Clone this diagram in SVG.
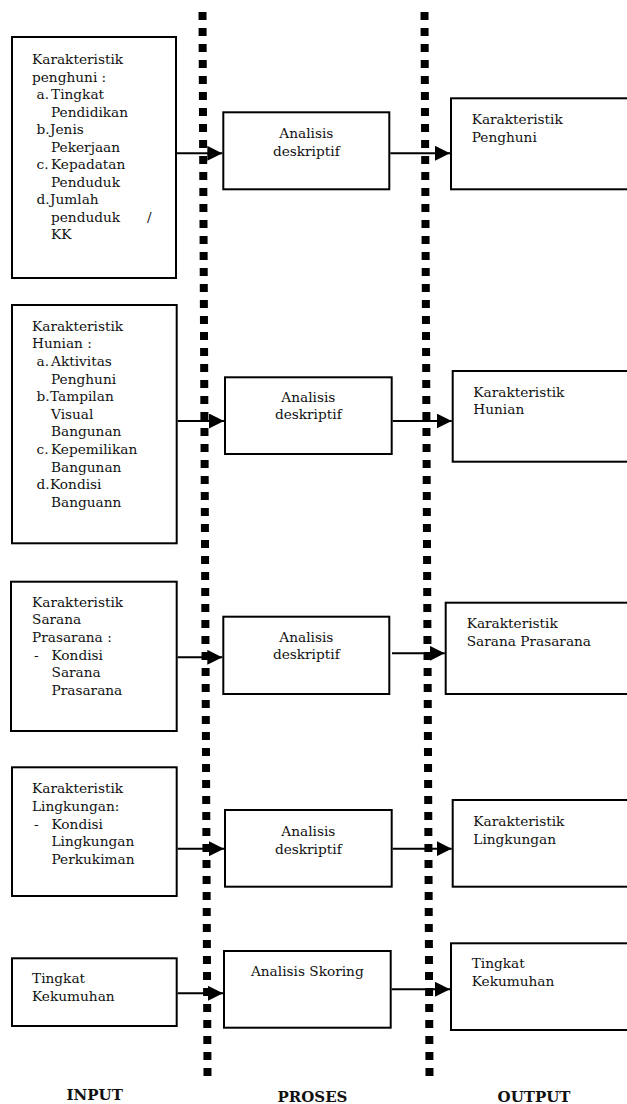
<svg xmlns="http://www.w3.org/2000/svg" width="627" height="1104" viewBox="0 0 627 1104">
<defs>
<style>
.box{fill:#fff;stroke:#000;stroke-width:2}
.t{font-family:"DejaVu Serif","Liberation Serif",serif;font-size:13.7px;fill:#111}
.c{text-anchor:middle}
.h{font-family:"DejaVu Serif","Liberation Serif",serif;font-size:15px;font-weight:bold;fill:#111;text-anchor:middle}
.dot{stroke:#000;stroke-width:8;stroke-dasharray:8 8;fill:none}
.arr{stroke:#000;stroke-width:2;fill:none;marker-end:url(#ah)}
</style>
<marker id="ah" markerUnits="userSpaceOnUse" markerWidth="15" markerHeight="15" refX="15" refY="7.5" orient="auto">
<path d="M0,0 L15,7.5 L0,15 z" fill="#000"/>
</marker>
</defs>
<rect width="627" height="1104" fill="#fff"/>
<g id="dividers">
<line class="dot" x1="202.5" y1="12" x2="207.5" y2="1076"/>
<line class="dot" x1="424.5" y1="12" x2="429.5" y2="1076"/>
</g>
<g id="in1">
<rect class="box" x="12" y="37" width="164" height="241"/>
<text class="t" x="32">
<tspan x="32" y="64">Karakteristik</tspan>
<tspan x="32" y="81.5">penghuni :</tspan>
<tspan x="36.5" y="99">a.</tspan><tspan x="51" y="99">Tingkat</tspan>
<tspan x="51" y="116.5">Pendidikan</tspan>
<tspan x="36.5" y="134">b.</tspan><tspan x="50" y="134">Jenis</tspan>
<tspan x="51" y="151.5">Pekerjaan</tspan>
<tspan x="36.5" y="169">c.</tspan><tspan x="51" y="169">Kepadatan</tspan>
<tspan x="51" y="186.5">Penduduk</tspan>
<tspan x="36.5" y="204">d.</tspan><tspan x="50" y="204">Jumlah</tspan>
<tspan x="51" y="221.5">penduduk</tspan><tspan x="147" y="221.5">/</tspan>
<tspan x="51" y="239">KK</tspan>
</text>
</g>
<g id="in2">
<rect class="box" x="12" y="305" width="164.7" height="238.3"/>
<text class="t">
<tspan x="32" y="330.7">Karakteristik</tspan>
<tspan x="32" y="348.3">Hunian :</tspan>
<tspan x="36.5" y="365.9">a.</tspan><tspan x="51" y="365.9">Aktivitas</tspan>
<tspan x="51" y="383.5">Penghuni</tspan>
<tspan x="36.5" y="401.1">b.</tspan><tspan x="50" y="401.1">Tampilan</tspan>
<tspan x="51" y="418.7">Visual</tspan>
<tspan x="51" y="436.3">Bangunan</tspan>
<tspan x="36.5" y="453.9">c.</tspan><tspan x="51" y="453.9">Kepemilikan</tspan>
<tspan x="51" y="471.5">Bangunan</tspan>
<tspan x="36.5" y="489.1">d.</tspan><tspan x="50" y="489.1">Kondisi</tspan>
<tspan x="51" y="506.7">Banguann</tspan>
</text>
</g>
<g id="in3">
<rect class="box" x="11" y="581.7" width="165.7" height="149.3"/>
<text class="t">
<tspan x="32" y="606.7">Karakteristik</tspan>
<tspan x="32" y="624.3">Sarana</tspan>
<tspan x="32" y="641.9">Prasarana :</tspan>
<tspan x="34" y="659.5">-</tspan><tspan x="51.5" y="659.5">Kondisi</tspan>
<tspan x="51.5" y="677.1">Sarana</tspan>
<tspan x="51.5" y="694.7">Prasarana</tspan>
</text>
</g>
<g id="in4">
<rect class="box" x="12" y="767.3" width="164.7" height="128.7"/>
<text class="t">
<tspan x="32" y="793.3">Karakteristik</tspan>
<tspan x="32" y="810.9">Lingkungan:</tspan>
<tspan x="34" y="828.5">-</tspan><tspan x="51.5" y="828.5">Kondisi</tspan>
<tspan x="51.5" y="846.1">Lingkungan</tspan>
<tspan x="51.5" y="863.7">Perkukiman</tspan>
</text>
</g>
<g id="in5">
<rect class="box" x="12" y="958.3" width="164.7" height="67.7"/>
<text class="t">
<tspan x="32" y="983.3">Tingkat</tspan>
<tspan x="32" y="1000.9">Kekumuhan</tspan>
</text>
</g>
<g id="pr1">
<rect class="box" x="223.3" y="112.3" width="166" height="77"/>
<text class="t c"><tspan x="306.3" y="138.3">Analisis</tspan><tspan x="306.3" y="155.9">deskriptif</tspan></text>
</g>
<g id="pr2">
<rect class="box" x="225" y="377.3" width="166.7" height="76.7"/>
<text class="t c"><tspan x="308.3" y="401.7">Analisis</tspan><tspan x="308.3" y="419.3">deskriptif</tspan></text>
</g>
<g id="pr3">
<rect class="box" x="223.3" y="616.7" width="166" height="77.3"/>
<text class="t c"><tspan x="306.3" y="641.7">Analisis</tspan><tspan x="306.3" y="659.3">deskriptif</tspan></text>
</g>
<g id="pr4">
<rect class="box" x="225" y="810" width="166.7" height="76.7"/>
<text class="t c"><tspan x="308.3" y="836">Analisis</tspan><tspan x="308.3" y="853.6">deskriptif</tspan></text>
</g>
<g id="pr5">
<rect class="box" x="224" y="951" width="166.7" height="76.7"/>
<text class="t c" x="307.3" y="976">Analisis Skoring</text>
</g>
<g id="out1">
<rect class="box" x="451" y="98.3" width="200" height="91"/>
<text class="t"><tspan x="471.7" y="124">Karakteristik</tspan><tspan x="471.7" y="141.6">Penghuni</tspan></text>
</g>
<g id="out2">
<rect class="box" x="452.7" y="371" width="200" height="90.7"/>
<text class="t"><tspan x="473.3" y="396.7">Karakteristik</tspan><tspan x="473.3" y="414.3">Hunian</tspan></text>
</g>
<g id="out3">
<rect class="box" x="445.7" y="602.7" width="200" height="91.3"/>
<text class="t"><tspan x="466.7" y="628.3">Karakteristik</tspan><tspan x="466.7" y="645.9">Sarana Prasarana</tspan></text>
</g>
<g id="out4">
<rect class="box" x="452.7" y="800" width="200" height="86.7"/>
<text class="t"><tspan x="473.3" y="826">Karakteristik</tspan><tspan x="473.3" y="843.6">Lingkungan</tspan></text>
</g>
<g id="out5">
<rect class="box" x="451" y="943.3" width="200" height="86.7"/>
<text class="t"><tspan x="471.7" y="968.3">Tingkat</tspan><tspan x="471.7" y="985.9">Kekumuhan</tspan></text>
</g>
<g id="connectors">
<line class="arr" x1="177" y1="153.3" x2="222.3" y2="153.3"/>
<line class="arr" x1="390.3" y1="153.3" x2="450" y2="153.3"/>
<line class="arr" x1="177.7" y1="421" x2="224" y2="421"/>
<line class="arr" x1="392.7" y1="421" x2="451.7" y2="421"/>
<line class="arr" x1="177.7" y1="657.3" x2="222.3" y2="657.3"/>
<line class="arr" x1="392" y1="653.3" x2="444.7" y2="653.3"/>
<line class="arr" x1="177.7" y1="848.7" x2="224" y2="848.7"/>
<line class="arr" x1="392.7" y1="848.7" x2="451.7" y2="848.7"/>
<line class="arr" x1="177.7" y1="993.3" x2="223" y2="993.3"/>
<line class="arr" x1="391.7" y1="989.3" x2="450" y2="989.3"/>
</g>
<g id="labels">
<text class="h" x="94.7" y="1100">INPUT</text>
<text class="h" x="312.5" y="1102">PROSES</text>
<text class="h" x="534" y="1102">OUTPUT</text>
</g>
</svg>
